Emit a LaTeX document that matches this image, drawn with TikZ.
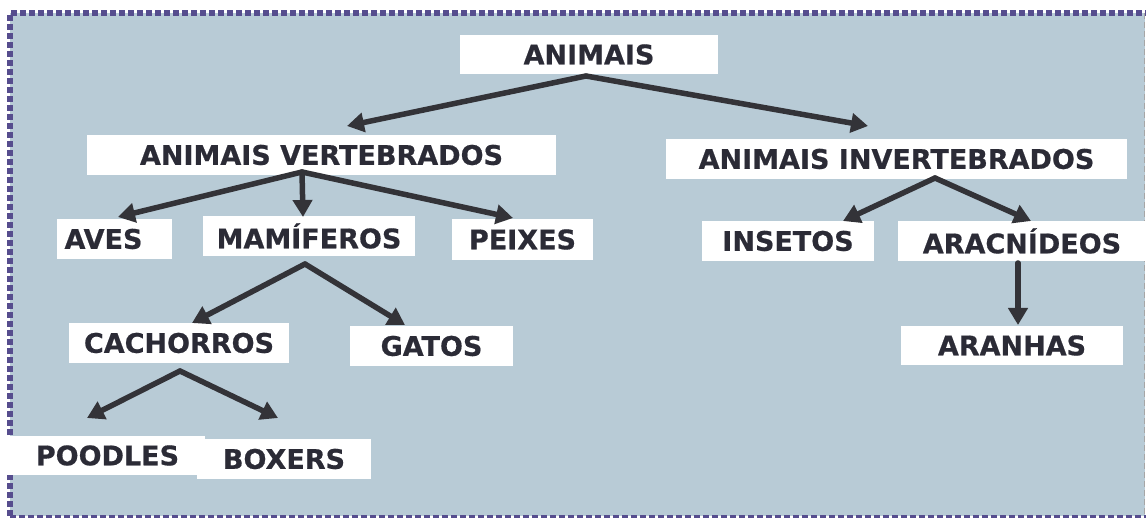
\documentclass[tikz,border=0pt]{standalone}
\usepackage{fontspec}
\setmainfont{DejaVu Sans}[BoldFeatures={FakeBold=0.6}]
\usetikzlibrary{arrows.meta}
\definecolor{bgc}{HTML}{B8CBD6}
\definecolor{brd}{HTML}{564D8E}
\definecolor{txt}{HTML}{2B2B36}
\definecolor{arr}{HTML}{333338}
\tikzset{
  cbox/.style={fill=white, draw=none, inner sep=0pt, text=txt,
    font=\bfseries\fontsize{27}{27}\selectfont},
  conn/.style={draw=arr, line width=5.5pt, line cap=round,
    -{Triangle[length=17pt,width=19pt]}},
}
\begin{document}
\begin{tikzpicture}[x=1pt,y=-1pt]
\useasboundingbox (0,0) rectangle (1146,518);
% background panel
\fill[bgc] (10,13) rectangle (1145,516);
\draw[brd, line width=5.5pt, dash pattern=on 6pt off 3pt] (10,516) -- (10,13) -- (1146,13);
\draw[brd, line width=3pt, dash pattern=on 6pt off 3pt] (10,516.5) -- (1146,516.5);
\draw[gray!70, line width=1pt, dash pattern=on 6pt off 3pt] (1144.5,13) -- (1144.5,516);

% nodes
\node[cbox, minimum width=258pt, minimum height=39pt] (ani) at (589,54.5) {ANIMAIS};
\node[cbox, minimum width=469pt, minimum height=40pt] (av) at (321.5,155) {ANIMAIS VERTEBRADOS};
\node[cbox, minimum width=461pt, minimum height=40pt] (ai) at (896.5,159) {ANIMAIS INVERTEBRADOS};
\node[cbox, minimum width=115pt, minimum height=40pt] (aves) at (114.5,239) {AVES\hspace*{22pt}};
\node[cbox, minimum width=212pt, minimum height=40pt] (mam) at (309,236) {MAMÍFEROS};
\node[cbox, minimum width=141pt, minimum height=41pt] (pei) at (522.5,239.5) {PEIXES};
\node[cbox, minimum width=172pt, minimum height=40pt] (ins) at (788,241) {INSETOS};
\node[cbox, minimum width=248pt, minimum height=40pt] (ara) at (1022,241) {ARACNÍDEOS};
\node[cbox, minimum width=222pt, minimum height=39pt] (aranhas) at (1012,345.5) {ARANHAS};
\node[cbox, minimum width=220pt, minimum height=40pt] (cach) at (179,343) {CACHORROS};
\node[cbox, minimum width=163pt, minimum height=40pt] (gatos) at (431.5,346) {GATOS};
\node[cbox, minimum width=199pt, minimum height=39pt] (pood) at (105.5,455.5) {\hspace*{4pt}POODLES};
\node[cbox, minimum width=174pt, minimum height=40pt] (boxers) at (284,459) {BOXERS};

% connector points
\coordinate (ani-o) at (586,76);
\coordinate (av-in) at (347,126);
\coordinate (ai-in) at (868,126);
\coordinate (av-o) at (302,172);
\coordinate (aves-in) at (118,217);
\coordinate (mam-in) at (303,217);
\coordinate (pei-in) at (513,218);
\coordinate (ai-o) at (935,178);
\coordinate (ins-in) at (843,221);
\coordinate (ara-in) at (1031,221);
\coordinate (ara-o) at (1018,263);
\coordinate (aranhas-in) at (1018,325);
\coordinate (mam-o) at (305,264);
\coordinate (cach-in) at (192,323);
\coordinate (gatos-in) at (405,325);
\coordinate (cach-o) at (180,371);
\coordinate (pood-in) at (87,418);
\coordinate (boxers-in) at (278,418);

\draw[conn] (ani-o) -- (av-in);
\draw[conn] (ani-o) -- (ai-in);
\draw[conn] (av-o) -- (aves-in);
\draw[conn] (av-o) -- (mam-in);
\draw[conn] (av-o) -- (pei-in);
\draw[conn] (ai-o) -- (ins-in);
\draw[conn] (ai-o) -- (ara-in);
\draw[conn] (ara-o) -- (aranhas-in);
\draw[conn] (mam-o) -- (cach-in);
\draw[conn] (mam-o) -- (gatos-in);
\draw[conn] (cach-o) -- (pood-in);
\draw[conn] (cach-o) -- (boxers-in);
\end{tikzpicture}
\end{document}
